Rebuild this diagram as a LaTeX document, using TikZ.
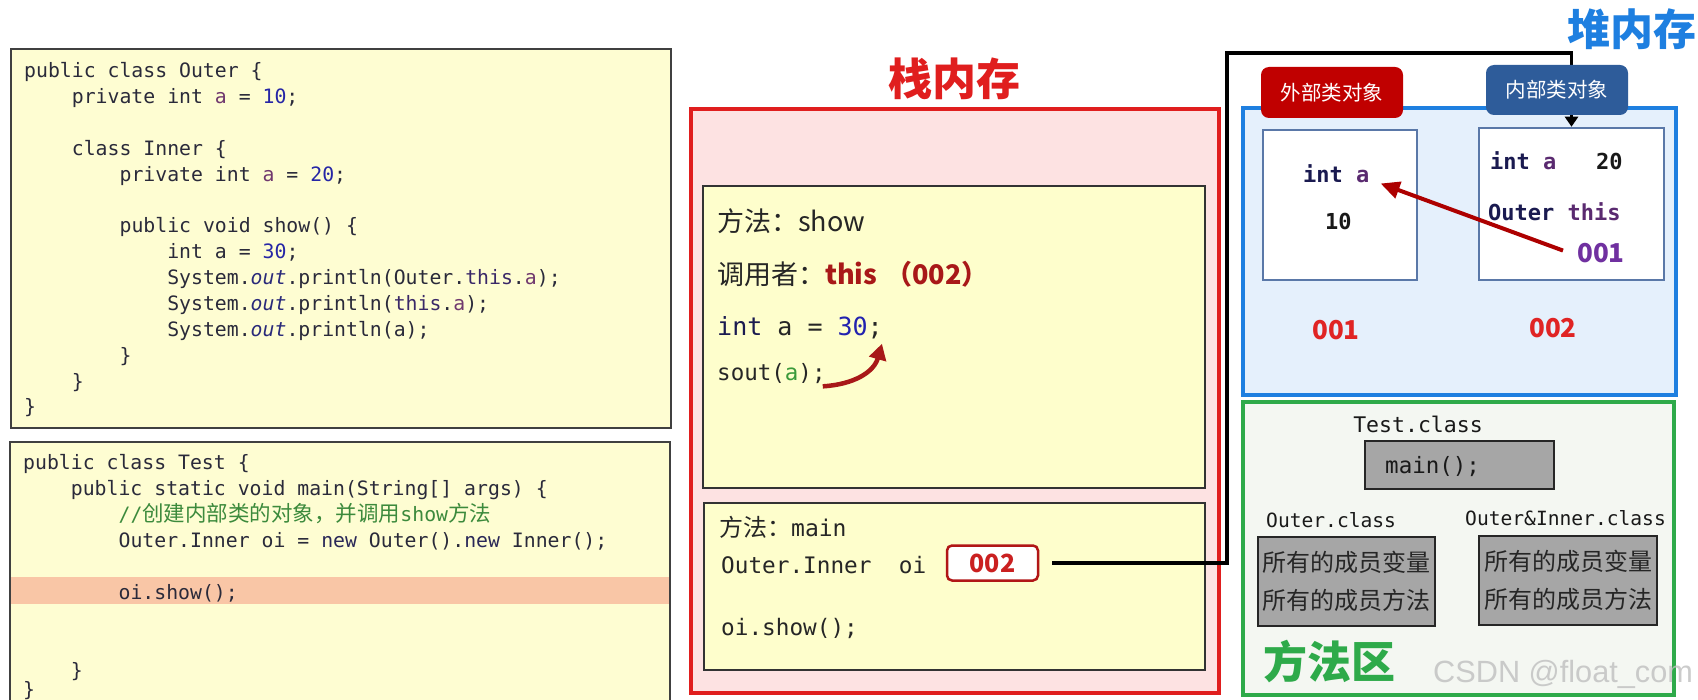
\documentclass[tikz,border=0pt]{standalone}
\usepackage{fontspec}
\usetikzlibrary{arrows.meta}
\newfontfamily\monof{DejaVu Sans Mono}
\newfontfamily\cjkf{Noto Sans CJK SC}
\newfontfamily\wmf{Liberation Sans}
\definecolor{codec}{HTML}{2A2A3A}
\definecolor{kwc}{HTML}{2A2858}
\definecolor{fldc}{HTML}{70386E}
\definecolor{numc}{HTML}{2626A6}
\definecolor{thisc}{HTML}{3A2868}
\definecolor{outc}{HTML}{2A2A7A}
\definecolor{cmtc}{HTML}{3C8A3C}
\definecolor{codebg}{HTML}{FEFDD2}
\definecolor{hlc}{HTML}{F9C6A6}
\definecolor{stackred}{HTML}{E01E1E}
\definecolor{stackbg}{HTML}{FDE2E2}
\definecolor{framebg}{HTML}{FEFECC}
\definecolor{darkred}{HTML}{A81818}
\definecolor{numred}{HTML}{E02424}
\definecolor{heapblue}{HTML}{1E7FE0}
\definecolor{heapbg}{HTML}{E5F0FC}
\definecolor{objborder}{HTML}{5A78A8}
\definecolor{labelred}{HTML}{C00000}
\definecolor{labelblue}{HTML}{2E5C9A}
\definecolor{navy}{HTML}{1A1A50}
\definecolor{purp}{HTML}{5A2A70}
\definecolor{purpnum}{HTML}{7030A0}
\definecolor{areagreen}{HTML}{2EAA4A}
\definecolor{areabg}{HTML}{F4F7F2}
\definecolor{greybox}{HTML}{A6A6A6}
\definecolor{sgreen}{HTML}{3A9A3A}
\newcommand\cKw[1]{\textcolor{kwc}{#1}}
\newcommand\cFd[1]{\textcolor{fldc}{#1}}
\newcommand\cNm[1]{\textcolor{numc}{#1}}
\newcommand\cTh[1]{\textcolor{thisc}{#1}}
\newcommand\cOu[1]{\textcolor{outc}{\itshape #1}}
\newcommand\cCm[1]{\textcolor{cmtc}{#1}}
\frenchspacing
\begin{document}
\begin{tikzpicture}[x=1pt,y=-1pt,
  codeln/.style={anchor=base west, inner sep=0pt, text=codec, font=\monof\fontsize{19.8}{22}\selectfont},
  codebox/.style={draw=black!75, line width=2pt, fill=codebg, inner sep=0pt},
  frame/.style={draw=black!80, line width=1.6pt, fill=framebg, inner sep=0pt},
  txt/.style={anchor=base west, inner sep=0pt, text=black!85},
  objbox/.style={draw=objborder, line width=2.5pt, fill=white, inner sep=0pt},
  heaptxt/.style={anchor=base west, inner sep=0pt, font=\monof\bfseries\fontsize{22}{24}\selectfont, text=navy},
  bignum/.style={anchor=base, inner sep=0pt, font=\cjkf\bfseries\fontsize{26}{28}\selectfont, text=numred},
  label/.style={rounded corners=8pt, inner sep=0pt, text=white, font=\cjkf\fontsize{20.5}{22}\selectfont},
  gbox/.style={draw=black!85, line width=1.5pt, fill=greybox, inner sep=0pt},
  classtxt/.style={anchor=base west, inner sep=0pt, text=black!90, font=\monof\fontsize{19.6}{22}\selectfont},
  cjkrows/.style={align=center, text=black!85, font=\cjkf\fontsize{24}{38}\selectfont}
]
\useasboundingbox (0,0) rectangle (1698,700);
\fill[white] (0,0) rectangle (1698,700);

% ---------------- code box: Outer ----------------
\node[codebox, minimum width=660pt, minimum height=379pt] (codeA) at (341,238.5) {};
\node[codeln] (o0)  at (24,77.7)    {public class Outer \{};
\node[codeln] (o1)  at (71.7,103.6) {private int \cFd{a} = \cNm{10};};
\node[codeln] (o3)  at (71.7,155.3) {class Inner \{};
\node[codeln] (o4)  at (119.4,181.2){private int \cFd{a} = \cNm{20};};
\node[codeln] (o6)  at (119.4,232.9){public void show() \{};
\node[codeln] (o7)  at (167.1,258.8){int a = \cNm{30};};
\node[codeln] (o8)  at (167.1,284.7){System.\cOu{out}.println(Outer.\cTh{this}.\cFd{a});};
\node[codeln] (o9)  at (167.1,310.5){System.\cOu{out}.println(\cTh{this}.\cFd{a});};
\node[codeln] (o10) at (167.1,336.4){System.\cOu{out}.println(a);};
\node[codeln] (o11) at (119.4,362.3){\}};
\node[codeln] (o12) at (71.7,388.2) {\}};
\node[codeln] (o13) at (24,414.0)   {\}};

% ---------------- code box: Test ----------------
\node[codebox, minimum width=660pt, minimum height=273pt] (codeB) at (340,578.5) {};
\node[fill=hlc, inner sep=0pt, minimum width=658pt, minimum height=27pt] (hl) at (340,590.5) {};
\node[codeln] (t0) at (23,469)    {public class Test \{};
\node[codeln] (t1) at (70.7,495)  {public static void main(String[] args) \{};
\node[codeln] (t2) at (118.4,521) {\cCm{//{\cjkf\fontsize{21.5}{22}\selectfont 创建内部类的对象，并调用}show{\cjkf\fontsize{21.5}{22}\selectfont 方法}}};
\node[codeln] (t3) at (118.4,547) {Outer.Inner oi = \cKw{new} Outer().\cKw{new} Inner();};
\node[codeln] (t5) at (118.4,599.5) {oi.show();};
\node[codeln] (t8) at (70.7,677)  {\}};
\node[codeln] (t9) at (23,696)    {\}};

% ---------------- stack ----------------
\node[anchor=base, inner sep=0pt, text=stackred, font=\cjkf\bfseries\fontsize{44}{46}\selectfont] (stacktitle) at (954,96) {栈内存};
\node[draw=stackred, line width=4pt, fill=stackbg, inner sep=0pt, minimum width=528pt, minimum height=584pt] (stack) at (955,401) {};
\node[frame, minimum width=502pt, minimum height=302pt] (showf) at (954,337) {};
\node[frame, minimum width=501pt, minimum height=167pt] (mainf) at (954.5,586.5) {};

\node[txt, font=\cjkf\fontsize{27}{30}\selectfont] (sm) at (717,232) {方法：show};
\node[txt, font=\cjkf\fontsize{27}{30}\selectfont] (caller) at (717,285) {调用者：\textcolor{darkred}{\bfseries this\hspace{8pt}（002）}};
\node[txt, font=\monof\fontsize{25}{27}\selectfont] (int30) at (717,336) {\textcolor{navy}{int} a = \textcolor{numc!90!blue}{30};};
\node[txt, font=\monof\fontsize{22.5}{25}\selectfont] (sout) at (717,381) {sout(\textcolor{sgreen}{a});};
\draw[darkred, line width=4.5pt, -{Triangle[length=16pt,width=17pt]}]
  ([xshift=-3pt,yshift=-2pt]sout.south east) .. controls +(32,-2) and +(-8,28) .. ([xshift=-1pt,yshift=-4pt]int30.south east);

\node[txt] (mm) at (719,536) {{\cjkf\fontsize{24}{26}\selectfont 方法：}{\monof\fontsize{23}{25}\selectfont main}};
\node[txt, font=\monof\fontsize{22.7}{25}\selectfont] (oidecl) at (721,573) {Outer.Inner\ \ oi};
\node[draw=darkred!90!red, line width=2.5pt, rounded corners=5pt, fill=white, inner sep=0pt,
      minimum width=91pt, minimum height=35pt, text=numred!90!black,
      font=\cjkf\bfseries\fontsize{25}{27}\selectfont] (p002) at (992.5,563) {002};
\node[txt, font=\monof\fontsize{22.7}{25}\selectfont] (oishow) at (721,635) {oi.show();};

% ---------------- heap ----------------
\node[draw=heapblue, line width=3.5pt, fill=heapbg, inner sep=0pt, minimum width=433pt, minimum height=287pt] (heap) at (1459.5,251.5) {};
\node[objbox, minimum width=154pt, minimum height=150pt] (outerobj) at (1340,205) {};
\node[objbox, minimum width=185pt, minimum height=152pt] (innerobj) at (1571.5,204) {};

\node[heaptxt] (outa) at (1303,183) {int \textcolor{purp}{a}};
\node[heaptxt, text=black!90] (out10) at (1325,230) {10};
\node[heaptxt] (ina) at (1490,170) {int \textcolor{purp}{a}\ \ \ \textcolor{black!90}{20}};
\node[heaptxt] (inthis) at (1488,221) {Outer \textcolor{purp}{this}};
\node[anchor=base west, inner sep=0pt, font=\cjkf\bfseries\fontsize{26}{28}\selectfont, text=purpnum] (in001) at (1577,263) {001};
\draw[labelred!90!black, line width=4pt, -{Triangle[length=19pt,width=17pt]}]
  ([xshift=-14pt,yshift=3pt]in001.west) -- ([xshift=11pt]outa.south east);

\node[bignum] (addr1) at (1336,340) {001};
\node[bignum] (addr2) at (1553,338) {002};

% reference line from oi to inner object
\coordinate (c1) at (1227,53);
\draw[black, line width=3.5pt, shorten <=13pt, -{Triangle[length=10pt,width=13pt]}]
  (p002.east) -- (p002.east -| c1) -- (c1) -- (c1 -| innerobj.north) -- (innerobj.north);

\node[label, fill=labelred, minimum width=142pt, minimum height=51pt] (lblouter) at (1332,92.5) {外部类对象};
\node[label, fill=labelblue, minimum width=142pt, minimum height=50pt] (lblinner) at (1557,90) {内部类对象};

\node[anchor=base west, inner sep=0pt, text=heapblue, font=\cjkf\bfseries\fontsize{43}{46}\selectfont] (heaptitle) at (1567,46) {堆内存};

% ---------------- method area ----------------
\node[draw=areagreen, line width=4pt, fill=areabg, inner sep=0pt, minimum width=431pt, minimum height=293pt] (area) at (1458.5,548.5) {};
\node[anchor=base, inner sep=0pt, text=black!90, font=\monof\fontsize{21.5}{23}\selectfont] (testcls) at (1418,432) {Test.class};
\node[gbox, minimum width=189pt, minimum height=48pt] (mainbox) at (1459.5,465) {};
\node[anchor=base west, inner sep=0pt, text=black!90, font=\monof\fontsize{22.5}{24}\selectfont] (maintxt) at (1385,474) {main();};
\node[classtxt] (outercls) at (1266,527) {Outer.class};
\node[classtxt] (bothcls) at (1465,525) {Outer\&Inner.class};
\node[gbox, minimum width=177pt, minimum height=89pt, cjkrows] (membersA) at (1346.5,581.5) {所有的成员变量\\所有的成员方法};
\node[gbox, minimum width=178pt, minimum height=89pt, cjkrows] (membersB) at (1568,580.5) {所有的成员变量\\所有的成员方法};
\node[anchor=base west, inner sep=0pt, text=areagreen, font=\cjkf\bfseries\fontsize{44}{46}\selectfont] (areatitle) at (1263,678) {方法区};
\node[anchor=base west, inner sep=0pt, text=black!25, opacity=0.8, font=\wmf\fontsize{30.7}{32}\selectfont] (wm) at (1433,682) {CSDN @float\_com};
\end{tikzpicture}
\end{document}
